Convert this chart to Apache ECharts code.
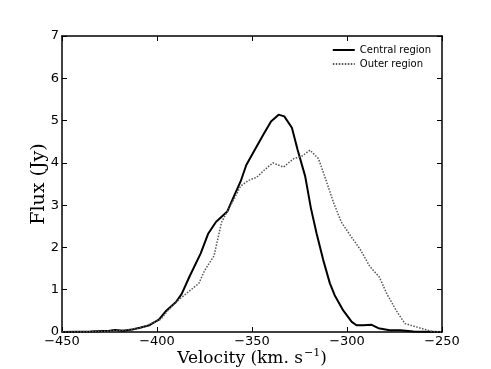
<!DOCTYPE html>
<html>
<head>
<meta charset="utf-8">
<script src="https://cdn.jsdelivr.net/npm/echarts@6/dist/echarts.min.js"></script>
<style>
  html, body { margin: 0; padding: 0; background: #fff; }
  #chart { width: 491px; height: 369px; }
</style>
</head>
<body>
<div id="chart"></div>
<script>
  // velocity (km/s) and flux (Jy)
  var centralVel = [-450, -435, -425, -422, -418, -413, -409, -404, -399, -395, -390, -387, -383, -377, -373, -369, -363, -360, -356, -353, -348, -344, -340, -336, -333, -329, -326, -322, -319, -316, -312.5, -309, -306.5, -302, -297.5, -295, -291.5, -287, -283.5, -277.5, -272, -265, -250];
  var centralFlux = [0, 0.01, 0.03, 0.05, 0.03, 0.06, 0.1, 0.16, 0.29, 0.51, 0.71, 0.9, 1.3, 1.86, 2.33, 2.6, 2.85, 3.16, 3.56, 3.95, 4.35, 4.67, 4.98, 5.14, 5.1, 4.83, 4.31, 3.68, 2.93, 2.33, 1.7, 1.15, 0.87, 0.51, 0.24, 0.16, 0.16, 0.17, 0.09, 0.04, 0.04, 0.01, 0];

  var outerVel = [-450, -430, -418, -414, -407, -402, -398, -395, -390, -384, -378, -375, -370, -368, -366, -363, -360, -356, -352, -347.5, -343, -339, -333.5, -328, -324, -319.5, -315, -311.5, -307, -303, -298.5, -293, -288, -283, -279, -274, -269.5, -262, -255, -250];
  var outerFlux = [0, 0.01, 0.04, 0.06, 0.12, 0.22, 0.3, 0.47, 0.71, 0.93, 1.15, 1.45, 1.8, 2.2, 2.6, 2.85, 3.1, 3.45, 3.58, 3.66, 3.85, 4.0, 3.9, 4.1, 4.15, 4.3, 4.1, 3.65, 3.05, 2.6, 2.3, 1.95, 1.55, 1.3, 0.9, 0.5, 0.2, 0.1, 0.01, 0];

  var xTicks = [-450, -400, -350, -300, -250];
  var yTicks = [0, 1, 2, 3, 4, 5, 6, 7];

  function pairs(xs, ys) {
    return xs.map(function (x, i) { return [x, ys[i]]; });
  }
  function minus(v) { return String(v).replace('-', '\u2212'); }

  var chart = echarts.init(document.getElementById('chart'));
  var tickStyle = { show: true, inside: true, length: 5, lineStyle: { color: '#000', width: 1 } };
  var lineAx = { show: true, onZero: false, lineStyle: { color: '#000', width: 1.5 } };

  chart.setOption({
    animation: false,
    grid: { left: 62, right: 49, top: 36, bottom: 37, outerBoundsMode: 'none' },
    legend: {
      right: 55, top: 40, orient: 'vertical', itemWidth: 22, itemHeight: 10, itemGap: 4,
      itemStyle: { opacity: 0 },
      textStyle: { fontFamily: 'DejaVu Sans', fontSize: 10, color: '#000' },
      data: ['Central region', 'Outer region']
    },
    xAxis: [{
      type: 'value', min: xTicks[0], max: xTicks[xTicks.length - 1], interval: 50,
      axisLine: lineAx, axisTick: tickStyle, splitLine: { show: false },
      axisLabel: { formatter: minus, fontFamily: 'DejaVu Sans', fontSize: 13, color: '#000', margin: 3 },
      name: '{n|Velocity (km. s}{s|\u22121}{n|)}', nameLocation: 'middle', nameGap: 16,
      nameMoveOverlap: false,
      nameTextStyle: {
        rich: {
          n: { fontFamily: 'DejaVu Serif', fontSize: 17, color: '#000' },
          s: { fontFamily: 'DejaVu Serif', fontSize: 11, color: '#000', verticalAlign: 'top', padding: [0, 0, 10, 1] }
        }
      }
    }, {
      type: 'value', position: 'top', min: xTicks[0], max: xTicks[xTicks.length - 1], interval: 50,
      axisLine: lineAx, axisTick: tickStyle, axisLabel: { show: false }, splitLine: { show: false }
    }],
    yAxis: [{
      type: 'value', min: 0, max: yTicks[yTicks.length - 1], interval: 1,
      axisLine: lineAx, axisTick: tickStyle, splitLine: { show: false },
      axisLabel: { fontFamily: 'DejaVu Sans', fontSize: 13, color: '#000', margin: 3 },
      name: 'Flux (Jy)', nameLocation: 'middle', nameGap: 13,
      nameMoveOverlap: false,
      nameTextStyle: { fontFamily: 'DejaVu Serif', fontSize: 19, color: '#000' }
    }, {
      type: 'value', position: 'right', min: 0, max: yTicks[yTicks.length - 1], interval: 1,
      axisLine: lineAx, axisTick: tickStyle, axisLabel: { show: false }, splitLine: { show: false }
    }],
    series: [{
      name: 'Central region', type: 'line', symbol: 'none', showSymbol: false,
      data: pairs(centralVel, centralFlux),
      lineStyle: { color: '#000', width: 2 }, itemStyle: { color: '#000' }
    }, {
      name: 'Outer region', type: 'line', symbol: 'none', showSymbol: false,
      data: pairs(outerVel, outerFlux),
      lineStyle: { color: '#555', width: 1.5, type: [1.5, 1.5] }, itemStyle: { color: '#555' }
    }]
  });
</script>
</body>
</html>
